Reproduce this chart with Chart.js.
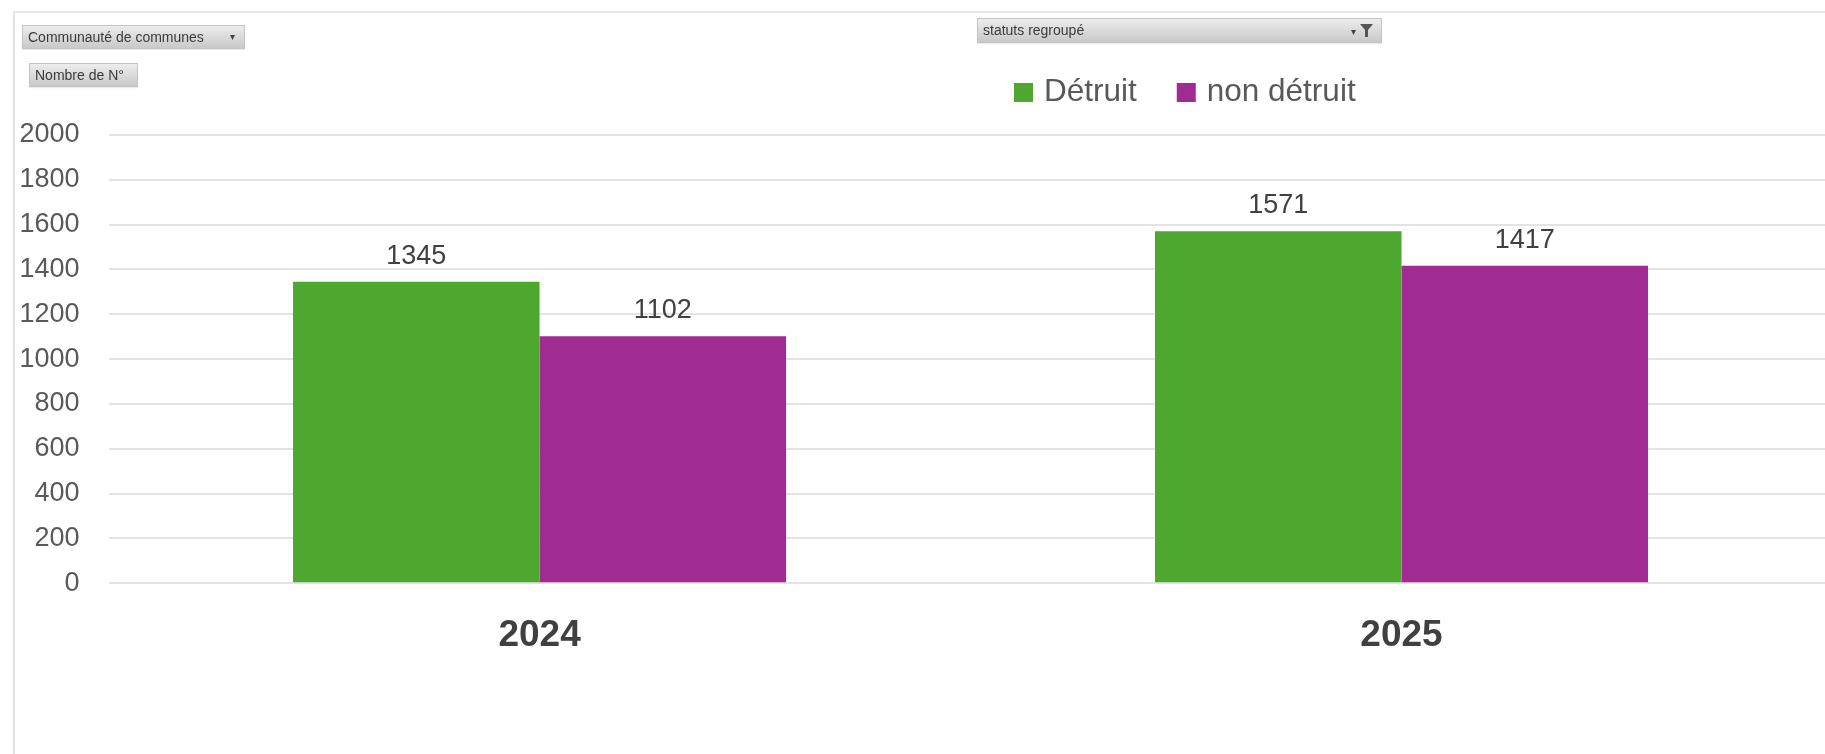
<!DOCTYPE html>
<html>
<head>
<meta charset="utf-8">
<script src="https://cdn.jsdelivr.net/npm/chart.js@4.4.1/dist/chart.umd.min.js"></script>
<style>
html,body{margin:0;padding:0;background:#fff;overflow:hidden;}
#wrap{position:relative;width:1825px;height:754px;overflow:hidden;background:#fff;}
#frame{position:absolute;left:13px;top:11px;width:1850px;height:800px;border-left:2px solid #e4e4e4;border-top:2px solid #e6e6e6;}
#c{position:absolute;left:0;top:0;}
.btn{position:absolute;box-sizing:border-box;background:linear-gradient(#ececec,#c9c9c9);border:1px solid #c4c4c4;font:14px "Liberation Sans",Arial,sans-serif;color:#3a3a3a;padding-left:5px;white-space:nowrap;box-shadow:0 1px 1px rgba(0,0,0,0.08);}
.arr{position:absolute;font-size:10px;color:#444;}
</style>
</head>
<body>
<div id="wrap">
  <div id="frame"></div>
  <canvas id="c" width="1840" height="754"></canvas>
  <div class="btn" style="left:22px;top:25px;width:223px;height:24px;line-height:22px;">Communauté de communes<span class="arr" style="right:9px;top:0;">▾</span></div>
  <div class="btn" style="left:29px;top:63px;width:109px;height:24px;line-height:22px;">Nombre de N°</div>
  <div class="btn" style="left:977px;top:18px;width:405px;height:25px;line-height:23px;">statuts regroupé<span class="arr" style="right:25px;top:1px;">▾</span>
    <svg style="position:absolute;right:8px;top:5px;" width="13" height="13" viewBox="0 0 13 13"><polygon points="0,0 13,0 8,6 8,13 5,13 5,6" fill="#555"/></svg>
  </div>
</div>
<script>
// ---- data ----
const categories = ['2024', '2025'];
const seriesNames = ['Détruit', 'non détruit'];
const detruitValues = [1345, 1571];
const nonDetruitValues = [1102, 1417];
const yTickValues = [0, 200, 400, 600, 800, 1000, 1200, 1400, 1600, 1800, 2000];
const seriesColors = ['#4EA72E', '#A02B93'];

const FONT = '"Liberation Sans", Arial, sans-serif';

const dataLabelPlugin = {
  id: 'dataLabelPlugin',
  afterDatasetsDraw(chart) {
    const ctx = chart.ctx;
    ctx.save();
    ctx.font = '27px ' + FONT;
    ctx.fillStyle = '#404040';
    ctx.textAlign = 'center';
    ctx.textBaseline = 'alphabetic';
    chart.data.datasets.forEach((ds, i) => {
      const meta = chart.getDatasetMeta(i);
      meta.data.forEach((bar, j) => {
        ctx.fillText(String(ds.data[j]), bar.x, bar.y - 18);
      });
    });
    ctx.restore();
  }
};

const customLegend = {
  id: 'customLegend',
  afterDraw(chart, args, opts) {
    const ctx = chart.ctx;
    ctx.save();
    ctx.font = opts.fontSize + 'px ' + FONT;
    ctx.textBaseline = 'middle';
    ctx.textAlign = 'left';
    let x = opts.x;
    const y = opts.y;
    chart.data.datasets.forEach((ds) => {
      ctx.fillStyle = ds.backgroundColor;
      ctx.fillRect(x, y - opts.box / 2, opts.box, opts.box);
      x += opts.box + opts.textGap;
      ctx.fillStyle = opts.color;
      ctx.fillText(ds.label, x, y);
      x += ctx.measureText(ds.label).width + opts.itemGap;
    });
    ctx.restore();
  }
};

new Chart(document.getElementById('c'), {
  type: 'bar',
  data: {
    labels: categories,
    datasets: [
      { label: seriesNames[0], data: detruitValues, backgroundColor: seriesColors[0], borderWidth: 0 },
      { label: seriesNames[1], data: nonDetruitValues, backgroundColor: seriesColors[1], borderWidth: 0 }
    ]
  },
  options: {
    responsive: false,
    animation: false,
    devicePixelRatio: 1,
    layout: { padding: { left: 19.5, right: 7.5, top: 135, bottom: 99.7 } },
    datasets: { bar: { categoryPercentage: 0.572, barPercentage: 1.0 } },
    plugins: {
      legend: { display: false },
      tooltip: { enabled: false },
      customLegend: { x: 1014, y: 92.5, box: 19, textGap: 11, itemGap: 40, fontSize: 31.5, color: '#595959' }
    },
    scales: {
      x: {
        grid: { display: false, drawTicks: false },
        border: { display: false },
        afterFit(s) { s.height -= s.options.ticks.padding; },
        ticks: { padding: 34, color: '#404040', font: { family: FONT, size: 37, weight: 'bold', lineHeight: 1 } }
      },
      y: {
        min: 0,
        max: 2000,
        afterBuildTicks(axis) { axis.ticks = yTickValues.map(v => ({ value: v })); },
        afterFit(s) { s.width -= s.options.ticks.padding; },
        grid: { color: '#e3e3e3', lineWidth: 2, drawTicks: false },
        border: { display: false },
        ticks: { padding: 29, color: '#595959', callback: (v) => String(v), font: { family: FONT, size: 27, lineHeight: 1 } }
      }
    }
  },
  plugins: [dataLabelPlugin, customLegend]
});
</script>
</body>
</html>
